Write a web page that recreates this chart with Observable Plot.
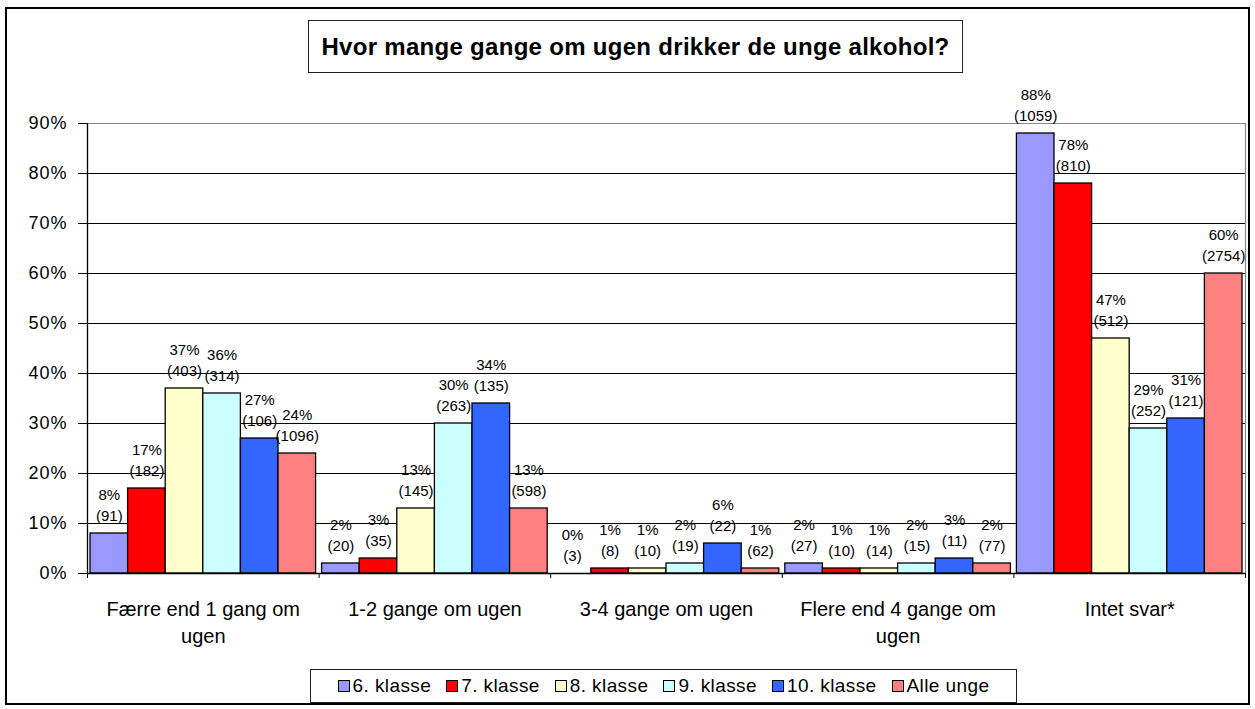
<!DOCTYPE html>
<html><head><meta charset="utf-8">
<script src="https://cdn.jsdelivr.net/npm/d3@7"></script>
<script src="https://cdn.jsdelivr.net/npm/@observablehq/plot@0.6"></script>
<style>
body{margin:0;background:#fff;font-family:"Liberation Sans",Arial,sans-serif;color:#000;}
#wrap{position:relative;width:1255px;height:709px;overflow:hidden;}
#border{position:absolute;left:5px;top:7px;width:1245px;height:698px;border:2px solid #000;box-sizing:border-box;}
#title{position:absolute;left:308px;top:20px;width:655px;height:53px;border:1px solid #222;box-sizing:border-box;display:flex;align-items:center;justify-content:center;font-weight:bold;font-size:24px;letter-spacing:0.3px;background:#fff;}
#legend{position:absolute;left:310px;top:669px;width:707px;height:34px;border:1px solid #222;box-sizing:border-box;display:flex;align-items:center;justify-content:center;gap:15px;font-size:19px;letter-spacing:0.4px;background:#fff;}
#legend .item{display:flex;align-items:center;}
#legend .sw{width:10px;height:10px;border:1px solid #000;margin-right:3px;}
#chart{position:absolute;left:0;top:0;}
#chart svg{font-family:"Liberation Sans",Arial,sans-serif;}
#chart g[aria-label="y-axis tick label"] text{letter-spacing:1px;}
</style>
</head><body>
<div id="wrap">
  <div id="chart"></div>
  <div id="border"></div>
  <div id="title">Hvor mange gange om ugen drikker de unge alkohol?</div>
  <div id="legend"></div>
</div>
<script>
const categories = ["Færre end 1 gang om\nugen", "1-2 gange om ugen", "3-4 gange om ugen", "Flere end 4 gange om\nugen", "Intet svar*"];
const seriesNames = ["6. klasse", "7. klasse", "8. klasse", "9. klasse", "10. klasse", "Alle unge"];
const seriesColors = ["#9999FF", "#FF0000", "#FFFFCC", "#CCFFFF", "#3366FF", "#FF8080"];
const pct6 = [8, 2, 0, 2, 88];
const pct7 = [17, 3, 1, 1, 78];
const pct8 = [37, 13, 1, 1, 47];
const pct9 = [36, 30, 2, 2, 29];
const pct10 = [27, 34, 6, 3, 31];
const pctAll = [24, 13, 1, 2, 60];
const cnt6 = [91, 20, 3, 27, 1059];
const cnt7 = [182, 35, 8, 10, 810];
const cnt8 = [403, 145, 10, 14, 512];
const cnt9 = [314, 263, 19, 15, 252];
const cnt10 = [106, 135, 22, 11, 121];
const cntAll = [1096, 598, 62, 77, 2754];
const yTicks = [0, 10, 20, 30, 40, 50, 60, 70, 80, 90];

const pctSeries = [pct6, pct7, pct8, pct9, pct10, pctAll];
const cntSeries = [cnt6, cnt7, cnt8, cnt9, cnt10, cntAll];
const rows = [];
categories.forEach((c, ci) => seriesNames.forEach((s, si) => {
  rows.push({ci, si, cat: c, series: s, value: pctSeries[si][ci], count: cntSeries[si][ci]});
}));

const pad = 0.013;
const bw = (1 - 2 * pad) / seriesNames.length;
const left = d => d.ci + pad + d.si * bw;

const plot = Plot.plot({
  width: 1255,
  height: 709,
  marginLeft: 87,
  marginRight: 10,
  marginTop: 123,
  marginBottom: 136,
  x: {type: "linear", domain: [0, categories.length]},
  y: {domain: [0, 90]},
  color: {domain: seriesNames, range: seriesColors},
  marks: [
    Plot.ruleY(yTicks.filter(t => t > 0 && t < 90), {stroke: "#000", strokeWidth: 1}),
    Plot.ruleY([90], {stroke: "#888", strokeWidth: 1.2}),
    Plot.ruleX([categories.length], {y1: 0, y2: 90, stroke: "#888", strokeWidth: 1.2}),
    Plot.rectY(rows, {x1: left, x2: d => left(d) + bw, y: "value", fill: "series", stroke: "#000", strokeWidth: 1.3}),
    Plot.ruleX([0], {y1: 0, y2: 90, stroke: "#000", strokeWidth: 1.3}),
    Plot.ruleY([0], {stroke: "#000", strokeWidth: 1.3}),
    Plot.axisY({ticks: yTicks, tickFormat: d => d + "%", tickSize: 9, tickPadding: 11, fontSize: 18, label: null, stroke: "#000"}),
    Plot.axisX({ticks: d3.range(categories.length + 1), tickSize: 5, tickFormat: () => "", label: null, stroke: "#000"}),
    Plot.text(rows, {x: d => left(d) + bw / 2, y: "value", text: d => `${d.value}%\n(${d.count})`, lineAnchor: "bottom", dy: -13, fontSize: 15, lineHeight: 1.35, fill: "#000"}),
    Plot.text(categories, {x: (d, i) => i + 0.5, y: () => 0, text: d => d, lineAnchor: "top", dy: 23, fontSize: 20, lineHeight: 1.35, fill: "#000"})
  ]
});
document.getElementById("chart").appendChild(plot);

const legend = document.getElementById("legend");
seriesNames.forEach((s, i) => {
  const item = document.createElement("div");
  item.className = "item";
  const sw = document.createElement("span");
  sw.className = "sw";
  sw.style.background = seriesColors[i];
  const t = document.createElement("span");
  t.textContent = s;
  item.appendChild(sw);
  item.appendChild(t);
  legend.appendChild(item);
});
</script>
</body></html>
